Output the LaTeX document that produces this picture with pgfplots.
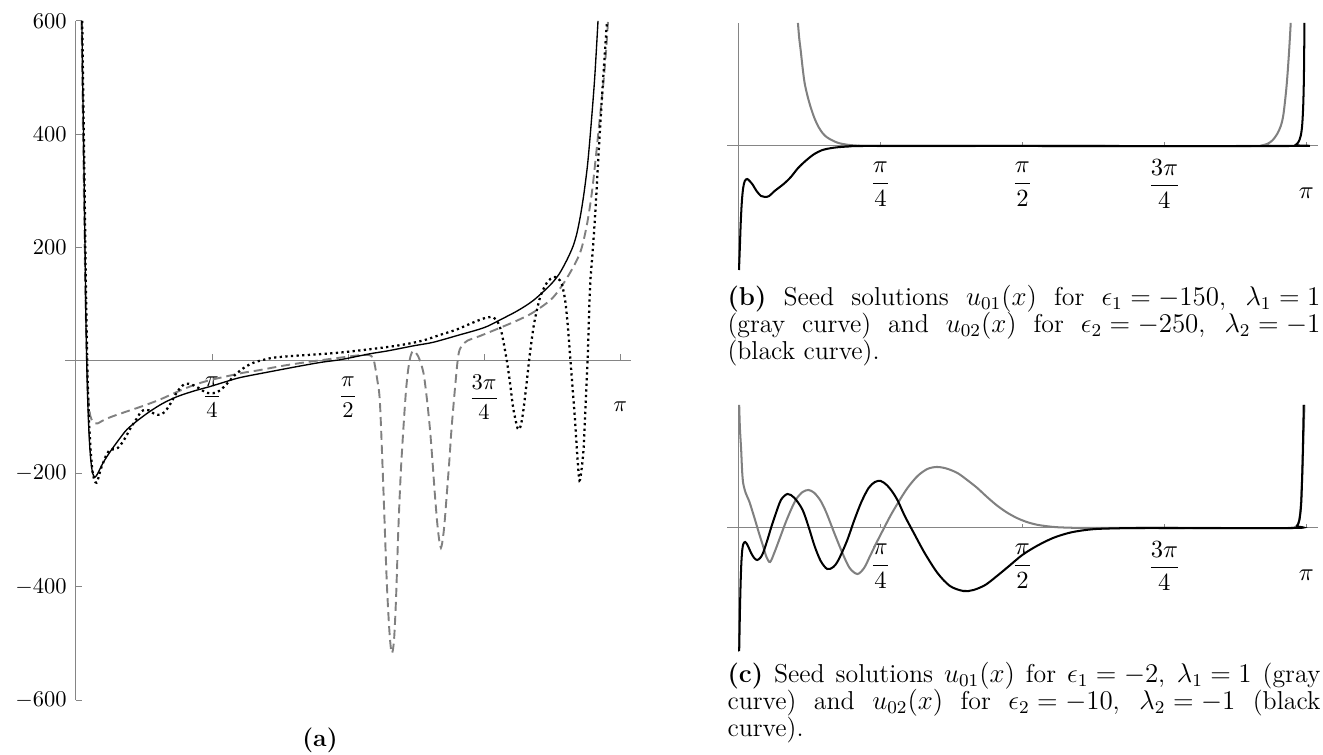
\documentclass[border=0pt]{standalone}
\usepackage{amsmath}
\usepackage{pgfplots}
\pgfplotsset{compat=1.18}
\definecolor{cg}{gray}{0.5}
\definecolor{ag}{gray}{0.52}
\def\u{0.44444pt}
\pgfplotsset{
  seed/.style={
    scale only axis, axis lines=middle,
    axis line style={-, draw=ag, line width=0.45pt},
    tick style={draw=ag, line width=0.45pt}, tick align=inside,
    xmin=-0.0628, xmax=3.2044,
    xtick={0.785398,1.570796,2.356194},
    xticklabels={$\dfrac{\pi}{4}$,$\dfrac{\pi}{2}$,$\dfrac{3\pi}{4}$},
    extra x ticks={3.141593}, extra x tick labels={$\pi$},
    xticklabel style={anchor=center, yshift=-16.4pt, inner sep=0pt},
    extra x tick style={xticklabel style={yshift=-4pt}},
    clip=false, anchor=south west,
  },
  right/.style={
    seed, width=262.5pt, height=109.8pt, ymin=-124, ymax=123, ytick=\empty,
    major tick length=1.8pt,
    xticklabel style={font=\fontsize{11}{13}\selectfont, yshift=-0.6pt},
  }
}
\newcommand\capfont{\fontsize{11.5}{13.4}\selectfont\thickmuskip=5mu\medmuskip=4mu\relax}
\begin{document}
\begin{tikzpicture}
\path[use as bounding box] (0,0) rectangle ({1323*\u},{-754*\u});

% ---------------- panel (a)
\begin{axis}[seed, at={({65.1*\u},{-700*\u})}, width=251.5pt, height=301.8pt,
  ymin=-600, ymax=600, major tick length=2.67pt,
  ytick={-600,-400,-200,200,400,600},
  yticklabel style={anchor=east, xshift=-4pt, inner sep=0pt}]
\addplot[cg, line width=0.85pt, dash pattern=on 4pt off 2.2pt, smooth, tension=0.5] coordinates {
(0.032,600)(0.04,420)(0.048,250)(0.055,110)(0.062,20)(0.068,-45)(0.075,-80)(0.083,-98)
(0.095,-107)(0.11,-111)(0.127,-111)(0.15,-107)(0.2,-100)(0.294,-90)(0.39,-80)(0.485,-69)
(0.58,-56)(0.675,-44)(0.77,-35)(0.87,-28)(0.96,-22)(1.06,-17)(1.2,-9)(1.33,-3)(1.45,2)
(1.55,6)(1.63,9)(1.68,10)(1.705,8)(1.72,0)(1.74,-35)(1.755,-75)(1.774,-220)(1.794,-388)
(1.81,-480)(1.823,-517)(1.836,-495)(1.848,-420)(1.861,-300)(1.875,-200)(1.89,-122)
(1.905,-55)(1.918,-16)(1.932,8)(1.948,17)(1.975,8)(2.005,-20)(2.025,-65)(2.044,-122)
(2.06,-185)(2.073,-240)(2.09,-300)(2.107,-331)(2.124,-300)(2.14,-240)(2.155,-180)
(2.168,-122)(2.188,-50)(2.207,8)(2.225,25)(2.26,35)(2.33,43)(2.45,58)(2.55,71)(2.64,85)
(2.75,110)(2.835,146)(2.91,190)(2.95,240)(2.98,300)(3.005,370)(3.025,430)(3.045,490)
(3.06,545)(3.072,600)};
\addplot[black, line width=0.6pt, smooth, tension=0.5] coordinates {
(0.034,600)(0.041,450)(0.048,300)(0.053,180)(0.058,60)(0.064,-30)(0.07,-90)(0.078,-145)
(0.087,-180)(0.097,-200)(0.11,-206)(0.125,-200)(0.156,-181)(0.2,-160)(0.25,-139)
(0.294,-122)(0.36,-105)(0.427,-90)(0.5,-76)(0.583,-64)(0.68,-54)(0.774,-46)(0.87,-37)
(0.95,-30)(1.1,-21)(1.29,-10)(1.42,-3)(1.52,1)(1.571,4)(1.7,12)(1.8,17)(1.95,26)(2.06,32)
(2.2,44)(2.356,58)(2.45,72)(2.55,88)(2.64,106)(2.737,133)(2.79,153)(2.835,178)(2.87,202)
(2.893,226)(2.915,260)(2.935,300)(2.955,350)(2.975,420)(2.995,500)(3.014,600)};
\addplot[black, line width=1pt, dash pattern=on 1pt off 1.5pt, smooth, tension=0.5] coordinates {
(0.036,600)(0.043,450)(0.05,300)(0.056,160)(0.062,50)(0.068,-40)(0.076,-110)(0.085,-160)
(0.095,-195)(0.107,-212)(0.119,-216)(0.13,-207)(0.142,-193)(0.158,-180)(0.175,-167)
(0.196,-158)(0.22,-157)(0.244,-154)(0.27,-144)(0.293,-132)(0.32,-117)(0.35,-103)
(0.375,-91)(0.398,-87)(0.42,-88)(0.445,-93)(0.47,-96)(0.5,-94)(0.525,-86)(0.55,-74)
(0.575,-60)(0.6,-49)(0.625,-42)(0.65,-41)(0.68,-44)(0.716,-50)(0.745,-56)(0.775,-58)
(0.805,-57)(0.831,-53)(0.86,-45)(0.889,-35)(0.917,-26)(0.947,-18)(0.985,-10)(1.024,-4)
(1.08,1)(1.14,5)(1.25,8)(1.4,11)(1.524,14)(1.7,20)(1.87,27)(2.0,35)(2.1,45)(2.2,55)
(2.3,68)(2.372,76)(2.41,76)(2.435,68)(2.455,52)(2.47,30)(2.49,-5)(2.506,-40)(2.525,-85)
(2.55,-120)(2.565,-118)(2.58,-95)(2.6,-45)(2.62,10)(2.645,65)(2.68,112)(2.72,138)
(2.755,147)(2.78,146)(2.805,135)(2.825,105)(2.84,60)(2.85,20)(2.865,-40)(2.88,-100)
(2.895,-170)(2.907,-212)(2.92,-190)(2.932,-150)(2.945,-60)(2.956,19)(2.968,130)
(2.985,200)(3.0,270)(3.02,380)(3.04,480)(3.066,600)};
\end{axis}

% ---------------- panel (b)
\begin{axis}[right, at={({727.1*\u},{-270*\u})}]
\addplot[cg, line width=0.9pt, smooth, tension=0.5] coordinates {
(0.329,123)(0.336,108)(0.344,96)(0.355,78)(0.366,63)(0.382,50)(0.399,39)(0.42,28)
(0.443,19)(0.465,13)(0.487,9)(0.52,5.5)(0.553,3)(0.6,1.3)(0.66,0.4)(0.75,0)(1.5,0)
(2.85,0)(2.9,0.8)(2.93,2.5)(2.956,6)(2.98,12)(3.0,20)(3.015,32)(3.032,60)(3.045,92)(3.055,123)};
\addplot[black, line width=0.9pt, smooth, tension=0.5] coordinates {
(0.003,-124)(0.008,-100)(0.013,-75)(0.019,-55)(0.026,-42)(0.035,-35)(0.048,-33)(0.062,-35)
(0.08,-39)(0.1,-45)(0.125,-50)(0.147,-51)(0.17,-50)(0.2,-45)(0.25,-38)(0.29,-31)
(0.33,-22)(0.377,-14)(0.42,-8)(0.465,-4)(0.51,-2.2)(0.553,-1.2)
(0.62,-0.4)(0.7,0)(1.5,0)(3.06,0)(3.08,0.8)(3.098,4)(3.11,10)(3.118,20)(3.124,40)
(3.128,70)(3.131,123)};
\end{axis}

% ---------------- panel (c)
\begin{axis}[right, at={({727.1*\u},{-652*\u})}]
\addplot[cg, line width=0.9pt, smooth, tension=0.5] coordinates {
(0.004,123)(0.008,100)(0.015,78)(0.02,58)(0.026,45)(0.04,35)(0.059,27)(0.075,18)(0.092,8)
(0.115,-6)(0.136,-18)(0.155,-29)(0.175,-34)(0.2,-24)(0.225,-12)(0.26,5)(0.29,18)(0.32,29)
(0.355,36)(0.388,38)(0.42,35)(0.455,27)(0.487,15)(0.53,-5)(0.575,-25)(0.615,-40)
(0.658,-46)(0.695,-40)(0.728,-28)(0.76,-16)(0.794,-4)(0.84,12)(0.882,25)(0.935,40)
(0.991,52)(1.045,59)(1.097,61)(1.15,59.5)(1.211,55)(1.265,48)(1.321,40)(1.375,31)(1.43,22.5)
(1.485,15.5)(1.54,10)(1.595,6)(1.65,3.3)(1.705,1.8)(1.76,0.8)(1.85,0.2)(1.95,0)(2.5,0)
(3.06,0)(3.08,1)(3.098,5)(3.11,20)(3.12,60)(3.126,95)(3.131,123)};
\addplot[black, line width=0.9pt, smooth, tension=0.5] coordinates {
(0.004,-123)(0.008,-85)(0.012,-55)(0.016,-35)(0.021,-22)(0.027,-16)(0.037,-14)(0.05,-17)
(0.07,-25)(0.087,-30)(0.103,-32)(0.12,-30)(0.136,-25)(0.16,-12)(0.18,0)(0.202,12)
(0.235,28)(0.272,34)(0.31,30)(0.355,18)(0.39,0)(0.421,-18)(0.455,-33)(0.491,-41)
(0.525,-39)(0.553,-32)(0.6,-13)(0.641,8)(0.68,26)(0.72,40)(0.755,46)(0.787,47)(0.82,43)
(0.852,36)(0.882,27)(0.92,12)(0.97,-5)(1.03,-25)(1.101,-45)(1.17,-58)(1.244,-63)
(1.3,-62)(1.365,-57)(1.43,-48)(1.497,-38)(1.57,-27)(1.65,-18)(1.74,-10)(1.826,-5)
(1.9,-2.5)(1.979,-1)(2.1,-0.3)(2.25,0)(3.07,0)(3.09,2)(3.103,8)(3.113,25)(3.12,62)
(3.124,95)(3.127,123)};
\end{axis}

% ---------------- captions
\node[anchor=base, inner sep=0pt] at ({320*\u},{-746*\u}) {\fontsize{11}{13}\selectfont\textbf{(a)}};
\node[anchor=north west, inner sep=0pt, text width=263.5pt, align=justify] at ({727.1*\u},{-285*\u})
 {\capfont \textbf{(b)} Seed solutions $u_{01}(x)$ for $\epsilon_1=-150$, $\lambda_1=1$\linebreak (gray curve) and $u_{02}(x)$ for $\epsilon_2=-250$, $\lambda_2=-1$\linebreak (black curve).};
\node[anchor=north west, inner sep=0pt, text width=263.5pt, align=justify] at ({727.1*\u},{-662*\u})
 {\capfont \textbf{(c)} Seed solutions $u_{01}(x)$ for $\epsilon_1=-2$, $\lambda_1=1$ (gray\linebreak curve) and $u_{02}(x)$ for $\epsilon_2=-10$, $\lambda_2=-1$ (black\linebreak curve).};
\end{tikzpicture}
\end{document}
